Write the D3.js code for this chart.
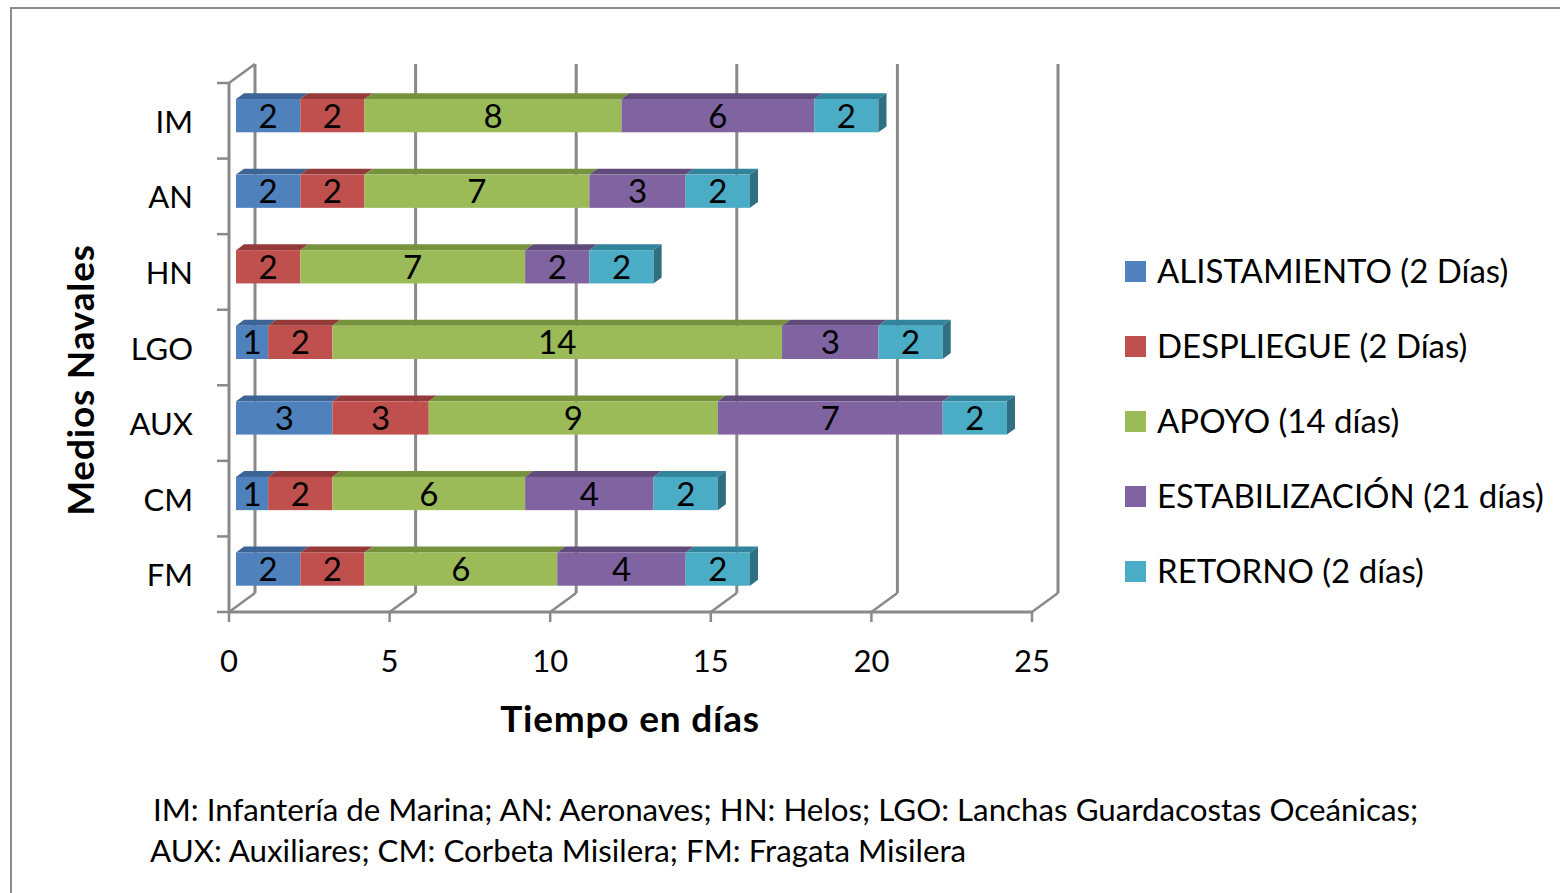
<!DOCTYPE html>
<html>
<head>
<meta charset="utf-8">
<script src="https://cdn.jsdelivr.net/npm/d3@7"></script>
<style>
  body { margin: 0; background: #fff; }
  text { font-family: Lato, "Open Sans", sans-serif; fill: #000; }
</style>
</head>
<body>
<script>
// Data
let categories = ["IM", "AN", "HN", "LGO", "AUX", "CM", "FM"];
let series = ["ALISTAMIENTO (2 Días)", "DESPLIEGUE (2 Días)", "APOYO (14 días)", "ESTABILIZACIÓN (21 días)", "RETORNO (2 días)"];
let alistamiento = [2, 2, 0, 1, 3, 1, 2];
let despliegue   = [2, 2, 2, 2, 3, 2, 2];
let apoyo        = [8, 7, 7, 14, 9, 6, 6];
let estabilizacion = [6, 3, 2, 3, 7, 4, 4];
let retorno      = [2, 2, 2, 2, 2, 2, 2];
let xTicks = [0, 5, 10, 15, 20, 25];
let notes = [
  "IM: Infantería de Marina; AN: Aeronaves; HN: Helos; LGO: Lanchas Guardacostas Oceánicas;",
  "AUX: Auxiliares; CM: Corbeta Misilera; FM: Fragata Misilera"
];

let values = [alistamiento, despliegue, apoyo, estabilizacion, retorno];

// Colours
let front_colors = ["#4f81bd", "#c0504d", "#9bbb59", "#8064a2", "#4bacc6"];
let top_colors   = ["#3c6494", "#943b39", "#76923c", "#604b7b", "#31849b"];
let side_color = "#2f6f80";
let line_color = "#898989";

let width = 1560;
let height = 893;

let svg = d3.select("body")
            .append("svg")
            .attr("width", width)
            .attr("height", height);

// Outer frame (runs off the right and bottom edge)
svg.append("rect")
   .attr("x", 11).attr("y", 8)
   .attr("width", 1600).attr("height", 1000)
   .attr("fill", "none")
   .attr("stroke", "#8c8c8c")
   .attr("stroke-width", 2);

// Scales
let x = d3.scaleLinear().domain([0, 25]).range([229, 1032]);
let y = d3.scaleBand().domain(categories).range([83, 612]);

// depth vector of the 3D box
let depthX = 26, depthY = -19;
let p = (px, py, d) => [px + depthX * d, py + depthY * d];
let poly = pts => "M" + pts.map(q => q.join(",")).join("L") + "Z";

let plot = svg.append("g").attr("id", "plot");

// Back wall gridlines
plot.selectAll(".grid")
    .data(xTicks)
    .enter()
    .append("line")
    .attr("x1", d => p(x(d), 612, 1)[0])
    .attr("x2", d => p(x(d), 612, 1)[0])
    .attr("y1", p(0, 612, 1)[1])
    .attr("y2", p(0, 83, 1)[1])
    .attr("stroke", line_color)
    .attr("stroke-width", 3);

// Floor diagonals
plot.selectAll(".floor")
    .data(xTicks)
    .enter()
    .append("line")
    .attr("x1", d => x(d))
    .attr("y1", 612)
    .attr("x2", d => p(x(d), 612, 1)[0])
    .attr("y2", p(0, 612, 1)[1])
    .attr("stroke", line_color)
    .attr("stroke-width", 2.5);

// Top-left diagonal of side wall
plot.append("line")
    .attr("x1", x(0)).attr("y1", 83)
    .attr("x2", p(x(0), 83, 1)[0]).attr("y2", p(0, 83, 1)[1])
    .attr("stroke", line_color).attr("stroke-width", 2.5);

// Front axes
plot.append("line")
    .attr("x1", x(0)).attr("x2", x(25))
    .attr("y1", 612).attr("y2", 612)
    .attr("stroke", line_color).attr("stroke-width", 3);
plot.append("line")
    .attr("x1", x(0)).attr("x2", x(0))
    .attr("y1", 83).attr("y2", 612)
    .attr("stroke", line_color).attr("stroke-width", 3);

// x ticks and labels
plot.selectAll(".xtick")
    .data(xTicks)
    .enter()
    .append("line")
    .attr("x1", d => x(d)).attr("x2", d => x(d))
    .attr("y1", 612).attr("y2", 622)
    .attr("stroke", line_color).attr("stroke-width", 2.5);

plot.selectAll(".xlabel")
    .data(xTicks)
    .enter()
    .append("text")
    .attr("x", d => x(d))
    .attr("y", 672)
    .attr("text-anchor", "middle")
    .attr("font-size", 31)
    .text(d => d);

// y ticks and labels
let yTickPos = categories.map(c => y(c)).concat([612]);
plot.selectAll(".ytick")
    .data(yTickPos)
    .enter()
    .append("line")
    .attr("x1", 217).attr("x2", x(0))
    .attr("y1", d => d).attr("y2", d => d)
    .attr("stroke", line_color).attr("stroke-width", 2.5);

plot.selectAll(".ylabel")
    .data(categories)
    .enter()
    .append("text")
    .attr("x", 193)
    .attr("y", d => y(d) + y.bandwidth() / 2 + 12)
    .attr("text-anchor", "end")
    .attr("font-size", 31)
    .text(d => d);

// Bars
let d0 = 0.27, d1 = 0.58;
let barH = y.bandwidth() * 0.44;

categories.forEach((cat, i) => {
  let cy = y(cat) + y.bandwidth() / 2;
  let top = cy - barH / 2, bot = cy + barH / 2;
  let acc = 0;
  let segs = [];
  values.forEach((vals, s) => {
    let v = vals[i];
    segs.push({ s: s, v: v, a: acc, b: acc + v });
    acc += v;
  });
  let g = plot.append("g").attr("class", "bar");
  segs.filter(d => d.v > 0).forEach(d => {
    let xa = x(d.a), xb = x(d.b);
    // top face
    g.append("path")
     .attr("d", poly([p(xa, top, d0), p(xb, top, d0), p(xb, top, d1), p(xa, top, d1)]))
     .attr("fill", top_colors[d.s]);
    // front face
    let f = p(xa, top, d0);
    g.append("rect")
     .attr("x", f[0]).attr("y", f[1])
     .attr("width", xb - xa).attr("height", barH)
     .attr("fill", front_colors[d.s]);
  });
  // right side face of the last segment
  let xe = x(acc);
  g.append("path")
   .attr("d", poly([p(xe, top, d0), p(xe, top, d1), p(xe, bot, d1), p(xe, bot, d0)]))
   .attr("fill", side_color);
  // labels
  segs.filter(d => d.v > 0).forEach(d => {
    let c = p((x(d.a) + x(d.b)) / 2, cy, d0);
    g.append("text")
     .attr("x", c[0]).attr("y", c[1] + 12)
     .attr("text-anchor", "middle")
     .attr("font-size", 33)
     .text(d.v);
  });
});

// Axis titles
svg.append("text")
   .attr("x", 630).attr("y", 732)
   .attr("text-anchor", "middle")
   .attr("font-size", 37)
   .attr("letter-spacing", 0.8)
   .attr("font-weight", "bold")
   .text("Tiempo en días");

svg.append("text")
   .attr("transform", "translate(94,380) rotate(-90)")
   .attr("text-anchor", "middle")
   .attr("font-size", 37)
   .attr("letter-spacing", 0.8)
   .attr("font-weight", "bold")
   .text("Medios Navales");

// Legend
let legend = svg.append("g").attr("id", "legend");
series.forEach((name, s) => {
  let cy = 271 + s * 75;
  legend.append("rect")
        .attr("x", 1125).attr("y", cy - 10)
        .attr("width", 21).attr("height", 21)
        .attr("fill", front_colors[s]);
  legend.append("text")
        .attr("x", 1157).attr("y", cy + 12)
        .attr("font-size", 33)
        .text(name);
});

// Notes
svg.selectAll(".note")
   .data(notes)
   .enter()
   .append("text")
   .attr("x", (d, i) => i === 0 ? 153 : 150)
   .attr("y", (d, i) => 821 + i * 41)
   .attr("font-size", 31.3)
   .text(d => d);
</script>
</body>
</html>
